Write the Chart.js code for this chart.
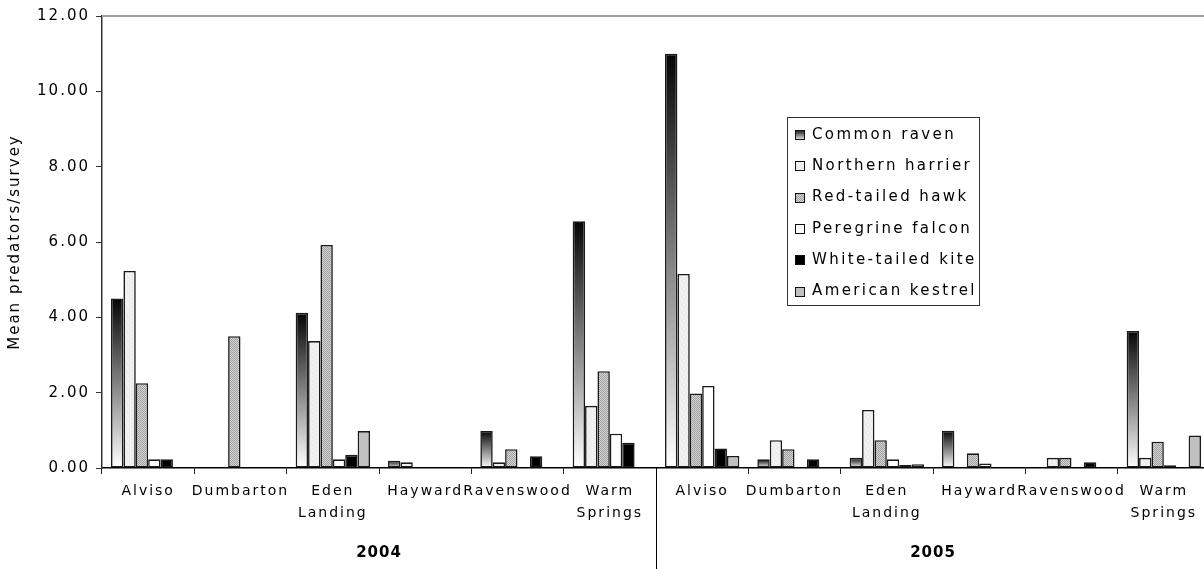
<!DOCTYPE html>
<html>
<head>
<meta charset="utf-8">
<script src="https://cdn.jsdelivr.net/npm/chart.js@4.4.1/dist/chart.umd.min.js"></script>
<style>
  html, body { margin: 0; padding: 0; background: #fff; overflow: hidden; }
  #wrap { width: 1212px; height: 569px; position: relative; }
</style>
</head>
<body>
<div id="wrap"><canvas id="c" width="1212" height="569"></canvas></div>
<script>
// Survey sites, repeated for each year
const sites = ['Alviso', 'Dumbarton', ['Eden', 'Landing'], 'Hayward', 'Ravenswood', ['Warm', 'Springs']];
const years = ['2004', '2005'];
const categories = [...sites, ...sites];

// Mean predators per survey, 2004 sites then 2005 sites
const commonRaven     = [4.50, 0.00, 4.12, 0.19, 0.98, 6.55, 11.00, 0.23, 0.27, 0.99, 0.00, 3.64];
const northernHarrier = [5.23, 0.00, 3.37, 0.15, 0.15, 1.65,  5.15, 0.74, 1.54, 0.00, 0.27, 0.27];
const redTailedHawk   = [2.25, 3.50, 5.92, 0.00, 0.50, 2.57,  1.98, 0.50, 0.74, 0.39, 0.27, 0.70];
const peregrineFalcon = [0.23, 0.00, 0.23, 0.00, 0.00, 0.91,  2.18, 0.00, 0.23, 0.12, 0.00, 0.07];
const whiteTailedKite = [0.23, 0.00, 0.35, 0.00, 0.31, 0.67,  0.52, 0.23, 0.08, 0.00, 0.15, 0.00];
const americanKestrel = [0.00, 0.00, 0.98, 0.00, 0.00, 0.00,  0.32, 0.00, 0.10, 0.00, 0.00, 0.86];

const seriesNames = ['Common raven', 'Northern harrier', 'Red-tailed hawk', 'Peregrine falcon', 'White-tailed kite', 'American kestrel'];
const yTicks = [0, 2, 4, 6, 8, 10, 12];

const FONT = 'DejaVu Sans';
const canvas = document.getElementById('c');
const ctx = canvas.getContext('2d');

// Small texture tiles for the patterned fills
function makeTile(w, h, base, dots) {
  const t = document.createElement('canvas');
  t.width = w; t.height = h;
  const g = t.getContext('2d');
  g.fillStyle = base;
  g.fillRect(0, 0, w, h);
  dots.forEach(([x, y, c]) => { g.fillStyle = c; g.fillRect(x, y, 1, 1); });
  return ctx.createPattern(t, 'repeat');
}
const speckle = makeTile(8, 8, '#f1f1f1', [
  [1, 0, '#e0e0e0'], [5, 1, '#e4e4e4'], [3, 3, '#dedede'], [7, 4, '#e2e2e2'],
  [0, 5, '#e5e5e5'], [4, 6, '#dfdfdf'], [2, 7, '#e3e3e3'], [6, 2, '#e8e8e8']
]);
const hatch = makeTile(2, 2, '#d4d4d4', [[0, 0, '#a0a0a0'], [1, 1, '#a0a0a0']]);

// Vertical dark-to-light shading for each raven bar
function ravenFill(c) {
  const chart = c.chart;
  if (c.type !== 'data' || !chart.chartArea) return '#777';
  const y = chart.scales.y;
  const top = y.getPixelForValue(c.parsed.y);
  const bottom = y.getPixelForValue(0);
  const g = chart.ctx.createLinearGradient(0, top, 0, Math.max(bottom, top + 1));
  g.addColorStop(0, '#050505');
  g.addColorStop(1, '#ffffff');
  return g;
}

const fills = [ravenFill, speckle, hatch, '#ffffff', '#000000', '#c0c0c0'];
const seriesValues = [commonRaven, northernHarrier, redTailedHawk, peregrineFalcon, whiteTailedKite, americanKestrel];

// Year labels, divider and the boxed legend
const decorations = {
  id: 'decorations',
  beforeDraw(chart) {
    chart.ctx.letterSpacing = '2px';
  },
  afterDraw(chart) {
    const c = chart.ctx;
    const area = chart.chartArea;
    const x = chart.scales.x;
    c.save();
    c.letterSpacing = '0px';

    // plot-area top edge
    c.strokeStyle = '#a0a0a0';
    c.lineWidth = 2;
    c.beginPath();
    c.moveTo(area.left, area.top);
    c.lineTo(area.right, area.top);
    c.stroke();

    // divider between years
    const n = sites.length;
    const divX = Math.round((x.getPixelForValue(n - 1) + x.getPixelForValue(n)) / 2) + 0.5;
    c.strokeStyle = '#000';
    c.lineWidth = 1;
    c.beginPath();
    c.moveTo(divX, area.bottom);
    c.lineTo(divX, chart.height);
    c.stroke();

    // year labels centred under each group of sites
    c.fillStyle = '#000';
    c.font = 'bold 15px "' + FONT + '"';
    c.textAlign = 'center';
    c.textBaseline = 'middle';
    c.letterSpacing = '1px';
    years.forEach((yr, i) => {
      const cx = (x.getPixelForValue(i * n) + x.getPixelForValue(i * n + n - 1)) / 2;
      c.fillText(yr, cx, 553);
    });

    // legend
    const lx = 787, ly = 117, lw = 192, lh = 188;
    c.fillStyle = '#fff';
    c.fillRect(lx, ly, lw, lh);
    c.strokeStyle = '#333';
    c.lineWidth = 1;
    c.strokeRect(lx + 0.5, ly + 0.5, lw, lh);
    c.font = '15px "' + FONT + '"';
    c.textAlign = 'left';
    c.letterSpacing = '2.4px';
    seriesNames.forEach((name, i) => {
      const cy = 135 + i * 31.3;
      const sx = 795, sy = Math.round(cy - 5), s = 10;
      let f = fills[i];
      if (typeof f === 'function') {
        const g = c.createLinearGradient(0, sy, 0, sy + s);
        g.addColorStop(0, '#111');
        g.addColorStop(1, '#f0f0f0');
        f = g;
      }
      c.fillStyle = f;
      c.fillRect(sx, sy, s, s);
      c.strokeStyle = '#111';
      c.lineWidth = 1;
      c.strokeRect(sx + 0.5, sy + 0.5, s - 1, s - 1);
      c.fillStyle = '#000';
      c.fillText(name, 812, cy);
    });
    c.restore();
  }
};

new Chart(canvas, {
  type: 'bar',
  data: {
    labels: categories,
    datasets: seriesValues.map((vals, i) => ({
      label: seriesNames[i],
      data: vals,
      backgroundColor: fills[i],
      borderColor: '#1a1a1a',
      borderWidth: 1.6,
      borderSkipped: false,
      categoryPercentage: 0.805,
      barPercentage: 1.0
    }))
  },
  options: {
    responsive: false,
    devicePixelRatio: 1,
    animation: false,
    layout: { padding: { left: 0, right: 2, top: 16, bottom: 0 } },
    plugins: {
      legend: { display: false },
      tooltip: { enabled: false }
    },
    scales: {
      x: {
        type: 'category',
        offset: true,
        afterFit(scale) { scale.height = 101; },
        grid: {
          offset: true,
          drawOnChartArea: false,
          drawTicks: true,
          tickLength: 6,
          color: '#222',
          lineWidth: 1
        },
        border: { display: true, color: '#000', width: 1.5 },
        ticks: {
          autoSkip: false,
          maxRotation: 0,
          minRotation: 0,
          padding: 6,
          color: '#000',
          font: { family: FONT, size: 14, lineHeight: 1.6 }
        }
      },
      y: {
        min: 0,
        max: 12,
        afterFit(scale) { scale.width = 102; },
        afterBuildTicks(scale) { scale.ticks = yTicks.map(v => ({ value: v })); },
        grid: {
          drawOnChartArea: false,
          drawTicks: true,
          tickLength: 6,
          color: '#333',
          lineWidth: 1
        },
        border: { display: true, color: '#333', width: 1.5 },
        ticks: {
          padding: 6,
          color: '#000',
          font: { family: FONT, size: 15 },
          callback: v => Number(v).toFixed(2)
        },
        title: {
          display: true,
          text: 'Mean predators/survey',
          color: '#000',
          padding: { top: 6, bottom: 0 },
          font: { family: FONT, size: 15 }
        }
      }
    }
  },
  plugins: [decorations]
});
</script>
</body>
</html>
